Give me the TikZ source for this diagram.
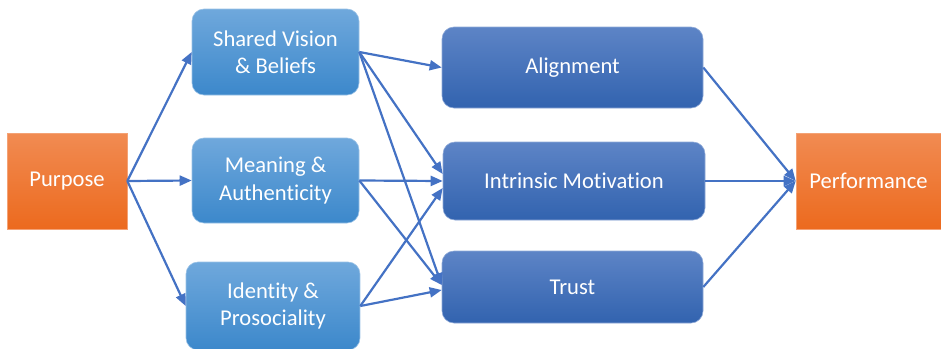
\documentclass[tikz,border=0pt]{standalone}
\usepackage{fontspec}
\setmainfont{Carlito}[RawFeature={-liga;-calt;-rlig;-dlig;-clig}]
\usetikzlibrary{arrows.meta}
\definecolor{orTop}{HTML}{F18B52}
\definecolor{orBot}{HTML}{EC6A1E}
\definecolor{lbTop}{HTML}{6FA8DC}
\definecolor{lbBot}{HTML}{3C88CB}
\definecolor{dbTop}{HTML}{5D84C6}
\definecolor{dbBot}{HTML}{3263AF}
\definecolor{arr}{HTML}{4472C4}
\tikzset{
  basebox/.style={rectangle, line width=0.6pt, text=white,
    font=\fontsize{22.6}{27.5}\selectfont, align=center, inner sep=0pt},
  obox/.style={basebox, top color=orTop, bottom color=orBot, draw=orTop!80!white},
  lbox/.style={basebox, rounded corners=12pt, top color=lbTop, bottom color=lbBot, draw=lbTop!70!white},
  dbox/.style={basebox, rounded corners=12pt, top color=dbTop, bottom color=dbBot, draw=dbTop!70!white},
  conn/.style={draw=arr, line width=2.2pt, -{Triangle[length=12pt,width=10pt]}}
}
\begin{document}
\begin{tikzpicture}[x=1pt,y=-1pt]
\useasboundingbox (0,0) rectangle (941,348);
\node[obox, minimum width=120pt, minimum height=96pt] (purpose) at (67,181) {Purpose};
\node[lbox, minimum width=167pt, minimum height=86pt] (shared) at (275.5,52) {Shared Vision\\\& Beliefs};
\node[lbox, minimum width=167pt, minimum height=85pt] (meaning) at (275.5,180.5) {Meaning \&\\Authenticity};
\node[lbox, minimum width=174pt, minimum height=88pt] (identity) at (273,306) {Identity \&\\Prosociality};
\node[dbox, minimum width=261pt, minimum height=81pt] (align) at (572.5,67.5) {Alignment};
\node[dbox, minimum width=262pt, minimum height=78pt] (intr) at (574,181) {Intrinsic Motivation};
\node[dbox, minimum width=261pt, minimum height=72pt] (trust) at (572.5,287) {Trust};
\node[obox, minimum width=145pt, minimum height=96pt] (perf) at (868.5,181) {Performance};

\draw[conn] (purpose.east) -- (shared.west);
\draw[conn] (purpose.east) -- (meaning.west);
\draw[conn] (purpose.east) -- (identity.west);

\draw[conn] (shared.east) -- (align.west);
\draw[conn] (shared.east) -- ([yshift=7pt]intr.west);
\draw[conn] (shared.east) -- ([yshift=2pt]trust.west);
\draw[conn] (meaning.east) -- (intr.west);
\draw[conn] (meaning.east) -- ([yshift=2pt]trust.west);
\draw[conn] (identity.east) -- ([yshift=-7pt]intr.west);
\draw[conn] (identity.east) -- ([yshift=-3pt]trust.west);

\draw[conn] (align.east) -- (perf.west);
\draw[conn] (intr.east) -- (perf.west);
\draw[conn] (trust.east) -- (perf.west);
\end{tikzpicture}
\end{document}
